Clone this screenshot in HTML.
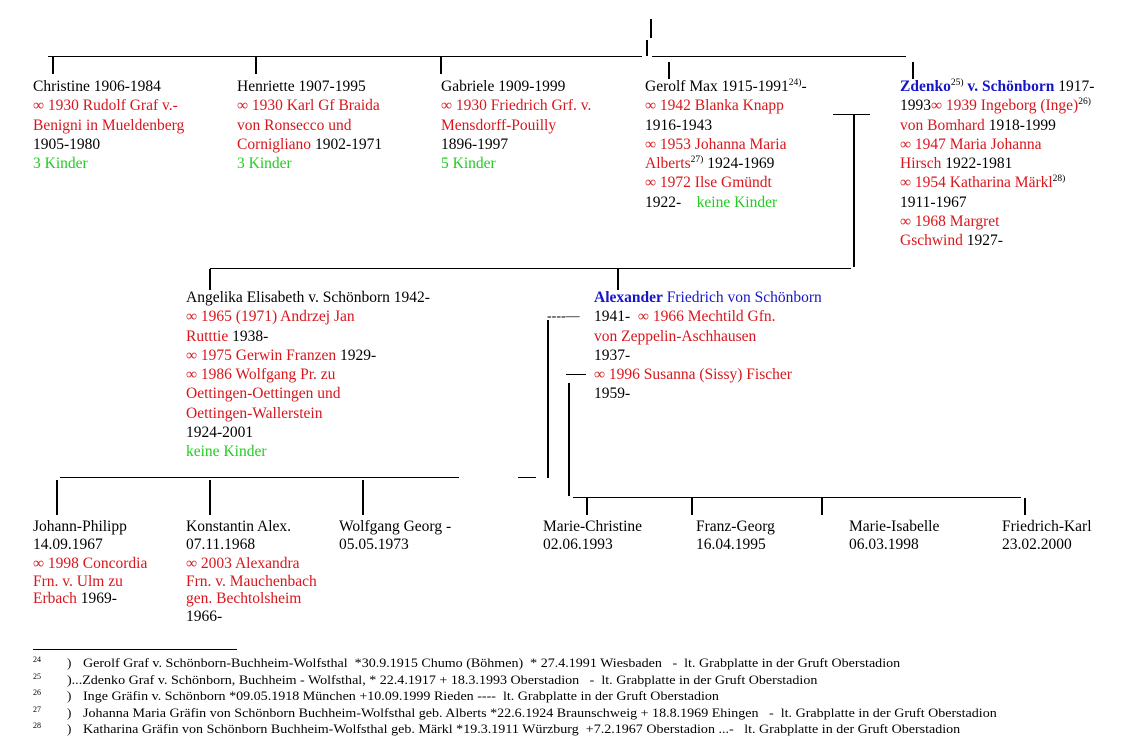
<!DOCTYPE html>
<html><head><meta charset="utf-8"><style>
body{margin:0;width:1144px;height:754px;background:#fff;position:relative;overflow:hidden;font-family:"Liberation Serif",serif;font-size:15.5px;color:#000}
.b{position:absolute;line-height:19.3px;white-space:nowrap}
.c{position:absolute;line-height:17.6px;white-space:nowrap}
.r{color:#d8161c}.g{color:#22cc22}.u{color:#1616c8}
.h{position:absolute;height:1px;background:#000}
.v{position:absolute;width:2px;background:#000}
sup{font-size:9.5px;line-height:0}
.f{position:absolute;font-size:13px;line-height:16.5px;white-space:nowrap;left:33px;width:1000px}
.f span{position:absolute}
.f .t{transform:scaleX(1.08);transform-origin:0 0}
</style></head><body>
<div class="v" style="left:650px;top:19px;height:19px"></div>
<div class="v" style="left:646px;top:40px;height:16px"></div>
<div class="h" style="left:48px;top:56px;width:594px"></div>
<div class="h" style="left:652px;top:56px;width:254px"></div>
<div class="v" style="left:52px;top:57px;height:17px"></div>
<div class="v" style="left:255px;top:57px;height:17px"></div>
<div class="v" style="left:440px;top:57px;height:17px"></div>
<div class="v" style="left:668px;top:62px;height:17px"></div>
<div class="v" style="left:912px;top:62px;height:17px"></div>

<div class="b" style="left:33px;top:77px">Christine 1906-1984<br><span class="r">∞ 1930 Rudolf Graf v.-<br>Benigni in Mueldenberg</span><br>1905-1980<br><span class="g">3 Kinder</span></div>
<div class="b" style="left:237px;top:77px">Henriette 1907-1995<br><span class="r">∞ 1930 Karl Gf Braida<br>von Ronsecco und<br>Cornigliano</span> 1902-1971<br><span class="g">3 Kinder</span></div>
<div class="b" style="left:441px;top:77px">Gabriele 1909-1999<br><span class="r">∞ 1930 Friedrich Grf. v.<br>Mensdorff-Pouilly</span><br>1896-1997<br><span class="g">5 Kinder</span></div>
<div class="b" style="left:645px;top:77px">Gerolf Max 1915-1991<sup>24)</sup>-<br><span class="r">∞ 1942 Blanka Knapp</span><br>1916-1943<br><span class="r">∞ 1953 Johanna Maria<br>Alberts</span><sup>27)</sup> 1924-1969<br><span class="r">∞ 1972 Ilse Gmündt</span><br>1922-&nbsp;&nbsp;&nbsp; <span class="g">keine Kinder</span></div>
<div class="b" style="left:900px;top:77px"><b class="u">Zdenko</b><sup>25)</sup> <b class="u">v. Schönborn</b> 1917-<br>1993<span class="r">∞ 1939 Ingeborg (Inge)</span><sup>26)</sup><br><span class="r">von Bomhard</span> 1918-1999<br><span class="r">∞ 1947 Maria Johanna<br>Hirsch</span> 1922-1981<br><span class="r">∞ 1954 Katharina Märkl</span><sup>28)</sup><br>1911-1967<br><span class="r">∞ 1968 Margret<br>Gschwind</span> 1927-</div>

<div class="h" style="left:833px;top:114px;width:37px"></div>
<div class="v" style="left:853px;top:115px;height:152px"></div>
<div class="h" style="left:210px;top:268px;width:641px"></div>
<div class="v" style="left:209px;top:269px;height:21px"></div>
<div class="v" style="left:617px;top:269px;height:21px"></div>

<div class="b" style="left:186px;top:288px">Angelika Elisabeth v. Schönborn 1942-<br><span class="r">∞ 1965 (1971) Andrzej Jan<br>Rutttie</span> 1938-<br><span class="r">∞ 1975 Gerwin Franzen</span> 1929-<br><span class="r">∞ 1986 Wolfgang Pr. zu<br>Oettingen-Oettingen und<br>Oettingen-Wallerstein</span><br>1924-2001<br><span class="g">keine Kinder</span></div>
<div class="b" style="left:594px;top:288px"><span class="u"><b>Alexander</b> Friedrich von Schönborn</span><br>1941-&nbsp; <span class="r">∞ 1966 Mechtild Gfn.<br>von Zeppelin-Aschhausen</span><br>1937-<br><span class="r">∞ 1996 Susanna (Sissy) Fischer</span><br>1959-</div>
<div class="b" style="left:547px;top:307px;font-size:14px">----—</div>
<div class="v" style="left:547px;top:320px;height:158px"></div>
<div class="h" style="left:566px;top:374px;width:20px"></div>
<div class="v" style="left:568px;top:383px;height:113px"></div>
<div class="h" style="left:518px;top:477px;width:18px"></div>
<div class="h" style="left:60px;top:477px;width:399px"></div>
<div class="v" style="left:56px;top:480px;height:35px"></div>
<div class="v" style="left:209px;top:480px;height:35px"></div>
<div class="v" style="left:362px;top:480px;height:35px"></div>
<div class="h" style="left:573px;top:497px;width:448px"></div>
<div class="v" style="left:586px;top:498px;height:17px"></div>
<div class="v" style="left:691px;top:498px;height:17px"></div>
<div class="v" style="left:821px;top:498px;height:17px"></div>
<div class="v" style="left:1024px;top:498px;height:17px"></div>

<div class="c" style="left:33px;top:518px">Johann-Philipp<br>14.09.1967<br><div style="height:2px"></div><span class="r">∞ 1998 Concordia<br>Frn. v. Ulm zu<br>Erbach</span> 1969-</div>
<div class="c" style="left:186px;top:518px">Konstantin Alex.<br>07.11.1968<br><div style="height:2px"></div><span class="r">∞ 2003 Alexandra<br>Frn. v. Mauchenbach<br>gen. Bechtolsheim</span><br>1966-</div>
<div class="c" style="left:339px;top:518px">Wolfgang Georg -<br>05.05.1973</div>
<div class="c" style="left:543px;top:518px">Marie-Christine<br>02.06.1993</div>
<div class="c" style="left:696px;top:518px">Franz-Georg<br>16.04.1995</div>
<div class="c" style="left:849px;top:518px">Marie-Isabelle<br>06.03.1998</div>
<div class="c" style="left:1002px;top:518px">Friedrich-Karl<br>23.02.2000</div>

<div class="h" style="left:33px;top:649px;width:204px"></div>
<div class="f" style="top:655px"><span style="font-size:8px;top:-3px">24</span><span style="left:34px">)</span><span class="t" style="left:50px">Gerolf Graf v. Schönborn-Buchheim-Wolfsthal&nbsp; *30.9.1915 Chumo (Böhmen)&nbsp; * 27.4.1991 Wiesbaden&nbsp;&nbsp; -&nbsp; lt. Grabplatte in der Gruft Oberstadion</span></div>
<div class="f" style="top:672px"><span style="font-size:8px;top:-3px">25</span><span class="t" style="left:34px">)...Zdenko Graf v. Schönborn, Buchheim - Wolfsthal, * 22.4.1917 + 18.3.1993 Oberstadion&nbsp;&nbsp; -&nbsp; lt. Grabplatte in der Gruft Oberstadion</span></div>
<div class="f" style="top:688px"><span style="font-size:8px;top:-3px">26</span><span style="left:34px">)</span><span class="t" style="left:50px">Inge Gräfin v. Schönborn *09.05.1918 München +10.09.1999 Rieden ----&nbsp; lt. Grabplatte in der Gruft Oberstadion</span></div>
<div class="f" style="top:705px"><span style="font-size:8px;top:-3px">27</span><span style="left:34px">)</span><span class="t" style="left:50px">Johanna Maria Gräfin von Schönborn Buchheim-Wolfsthal geb. Alberts *22.6.1924 Braunschweig + 18.8.1969 Ehingen&nbsp;&nbsp; -&nbsp; lt. Grabplatte in der Gruft Oberstadion</span></div>
<div class="f" style="top:721px"><span style="font-size:8px;top:-3px">28</span><span style="left:34px">)</span><span class="t" style="left:50px">Katharina Gräfin von Schönborn Buchheim-Wolfsthal geb. Märkl *19.3.1911 Würzburg&nbsp; +7.2.1967 Oberstadion ...-&nbsp;&nbsp; lt. Grabplatte in der Gruft Oberstadion</span></div>
</body></html>
